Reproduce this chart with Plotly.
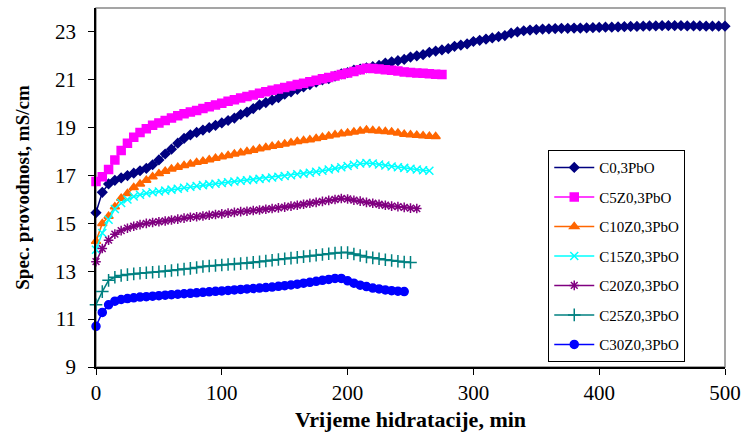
import plotly.graph_objects as go

# sampling times (min), every 5 min
time_min = list(range(0, 505, 5))

series_names = ["C0,3PbO", "C5Z0,3PbO", "C10Z0,3PbO", "C15Z0,3PbO",
                "C20Z0,3PbO", "C25Z0,3PbO", "C30Z0,3PbO"]

c0 = [15.45, 16.30, 16.65, 16.80, 16.90, 17.00, 17.10, 17.20, 17.30, 17.45,
      17.65, 17.90, 18.10, 18.35, 18.55, 18.70, 18.80, 18.90, 19.00, 19.10,
      19.20, 19.30, 19.40, 19.55, 19.65, 19.80, 19.95, 20.05, 20.15, 20.25,
      20.40, 20.50, 20.60, 20.70, 20.80, 20.90, 21.00, 21.05, 21.15, 21.25,
      21.30, 21.40, 21.45, 21.50, 21.55, 21.60, 21.70, 21.75, 21.80, 21.85,
      21.95, 22.00, 22.05, 22.15, 22.20, 22.25, 22.30, 22.40, 22.45, 22.50,
      22.60, 22.65, 22.70, 22.75, 22.80, 22.85, 22.95, 23.00, 23.05, 23.08,
      23.10, 23.12, 23.13, 23.14, 23.15, 23.15, 23.16, 23.16, 23.17, 23.18,
      23.19, 23.20, 23.20, 23.21, 23.22, 23.23, 23.23, 23.24, 23.25, 23.25,
      23.26, 23.26, 23.26, 23.26, 23.25, 23.25, 23.25, 23.24, 23.24, 23.24,
      23.24]

c5z = [16.75, 16.95, 17.25, 17.65, 18.05, 18.35, 18.60, 18.80, 18.95, 19.10,
       19.20, 19.30, 19.40, 19.50, 19.58, 19.65, 19.72, 19.80, 19.87, 19.95,
       20.02, 20.10, 20.17, 20.24, 20.30, 20.37, 20.44, 20.50, 20.56, 20.62,
       20.68, 20.74, 20.80, 20.86, 20.92, 20.98, 21.04, 21.10, 21.16, 21.22,
       21.28, 21.35, 21.42, 21.48, 21.47, 21.45, 21.42, 21.40, 21.37, 21.33,
       21.30, 21.28, 21.27, 21.25, 21.23, 21.22]

c10z = [14.25, 15.00, 15.30, 15.70, 16.05, 16.25, 16.50, 16.65, 16.80, 16.95,
        17.08, 17.18, 17.27, 17.35, 17.42, 17.48, 17.55, 17.60, 17.66, 17.72,
        17.78, 17.84, 17.90, 17.95, 18.00, 18.06, 18.12, 18.17, 18.22, 18.27,
        18.32, 18.37, 18.42, 18.46, 18.50, 18.55, 18.60, 18.65, 18.70, 18.75,
        18.78, 18.82, 18.86, 18.90, 18.88, 18.86, 18.84, 18.82, 18.78, 18.73,
        18.70, 18.68, 18.66, 18.64, 18.63]

c15z = [13.90, 14.60, 15.15, 15.60, 15.85, 16.00, 16.12, 16.20, 16.26, 16.30,
        16.33, 16.37, 16.41, 16.45, 16.49, 16.53, 16.56, 16.60, 16.63, 16.66,
        16.69, 16.72, 16.75, 16.78, 16.80, 16.83, 16.86, 16.89, 16.92, 16.95,
        16.98, 17.01, 17.05, 17.08, 17.12, 17.16, 17.20, 17.25, 17.30, 17.35,
        17.40, 17.45, 17.50, 17.52, 17.50, 17.46, 17.42, 17.38, 17.35, 17.32,
        17.28, 17.25, 17.22, 17.20]

c20z = [13.40, 13.95, 14.30, 14.55, 14.70, 14.80, 14.88, 14.95, 15.00, 15.04,
        15.07, 15.10, 15.14, 15.18, 15.22, 15.26, 15.28, 15.31, 15.34, 15.37,
        15.40, 15.43, 15.46, 15.49, 15.51, 15.54, 15.56, 15.59, 15.62, 15.65,
        15.68, 15.72, 15.76, 15.80, 15.84, 15.88, 15.92, 15.96, 16.00, 16.04,
        16.02, 15.97, 15.93, 15.88, 15.84, 15.80, 15.76, 15.72, 15.70, 15.67,
        15.64, 15.62]

c25z = [11.60, 12.15, 12.62, 12.75, 12.82, 12.86, 12.89, 12.92, 12.94, 12.96,
        12.98, 13.00, 13.03, 13.06, 13.09, 13.12, 13.16, 13.20, 13.22, 13.24,
        13.26, 13.28, 13.30, 13.32, 13.34, 13.37, 13.40, 13.43, 13.46, 13.49,
        13.52, 13.55, 13.58, 13.61, 13.64, 13.67, 13.70, 13.73, 13.76, 13.78,
        13.78, 13.72, 13.66, 13.60, 13.56, 13.52, 13.48, 13.45, 13.42, 13.39,
        13.37]

c30z = [10.70, 11.28, 11.60, 11.75, 11.82, 11.86, 11.89, 11.92, 11.94, 11.96,
        11.98, 12.00, 12.02, 12.04, 12.06, 12.08, 12.10, 12.12, 12.14, 12.16,
        12.18, 12.20, 12.22, 12.24, 12.26, 12.28, 12.30, 12.32, 12.34, 12.37,
        12.40, 12.43, 12.46, 12.50, 12.54, 12.58, 12.62, 12.66, 12.70, 12.70,
        12.60, 12.50, 12.42, 12.36, 12.30, 12.26, 12.22, 12.19, 12.17, 12.15]

x_ticks = [0, 100, 200, 300, 400, 500]
y_ticks = [9, 11, 13, 15, 17, 19, 21, 23]

values = [c0, c5z, c10z, c15z, c20z, c25z, c30z]
colors = ["#000080", "#FF00FF", "#FF6600", "#00FFFF", "#800080", "#008080", "#0000FF"]
symbols = ["diamond", "square", "triangle-up", "x-thin-open", "asterisk-open",
           "cross-thin-open", "circle"]
sizes = [7, 8, 8, 8, 8, 9, 8]

fig = go.Figure()
for i, (name, vals) in enumerate(zip(series_names, values)):
    fig.add_trace(go.Scatter(
        x=time_min[:len(vals)], y=vals, name=name, mode="lines+markers",
        legendgroup=f"g{i}",
        line=dict(color=colors[i], width=1.5),
        marker=dict(symbol=symbols[i], size=sizes[i], color=colors[i],
                    line=dict(color=colors[i], width=1.5)),
        cliponaxis=False,
    ))

serif = "Liberation Serif"
fig.update_layout(
    width=744, height=435,
    margin=dict(l=96, r=19, t=8, b=68, autoexpand=False),
    paper_bgcolor="white", plot_bgcolor="white",
    font=dict(family=serif, color="black", size=18),
    xaxis=dict(range=[0, 500], tickvals=x_ticks, ticks="outside", ticklen=6,
               tickwidth=1, tickcolor="black", showline=True, linecolor="black",
               linewidth=1.5, showgrid=False, zeroline=False, automargin=False,
               tickfont=dict(size=21, family=serif),
               title=dict(text="<b>Vrijeme hidratacije, min</b>",
                          font=dict(size=22, family=serif), standoff=8)),
    yaxis=dict(range=[9, 24], tickvals=y_ticks, ticks="outside", ticklen=6,
               tickwidth=1, tickcolor="black", showline=True, linecolor="black",
               linewidth=1.5, showgrid=False, zeroline=False, automargin=False,
               tickfont=dict(size=21, family=serif), ticklabelstandoff=8,
               title=dict(text="<b>Spec. provodnost, mS/cm</b>",
                          font=dict(size=19, family=serif), standoff=20)),
    legend=dict(x=0.719, y=0.604, xanchor="left", yanchor="top",
                bordercolor="black", borderwidth=1, bgcolor="white",
                font=dict(size=15, family=serif), tracegroupgap=7,
                traceorder="grouped", itemwidth=40),
    shapes=[dict(type="rect", xref="paper", yref="paper", x0=0, y0=0, x1=1, y1=1,
                 line=dict(color="#888888", width=1.5), layer="below")],
)

fig.write_html("out.html", config={"displayModeBar": False},
               post_script="document.body.style.margin='0';")
